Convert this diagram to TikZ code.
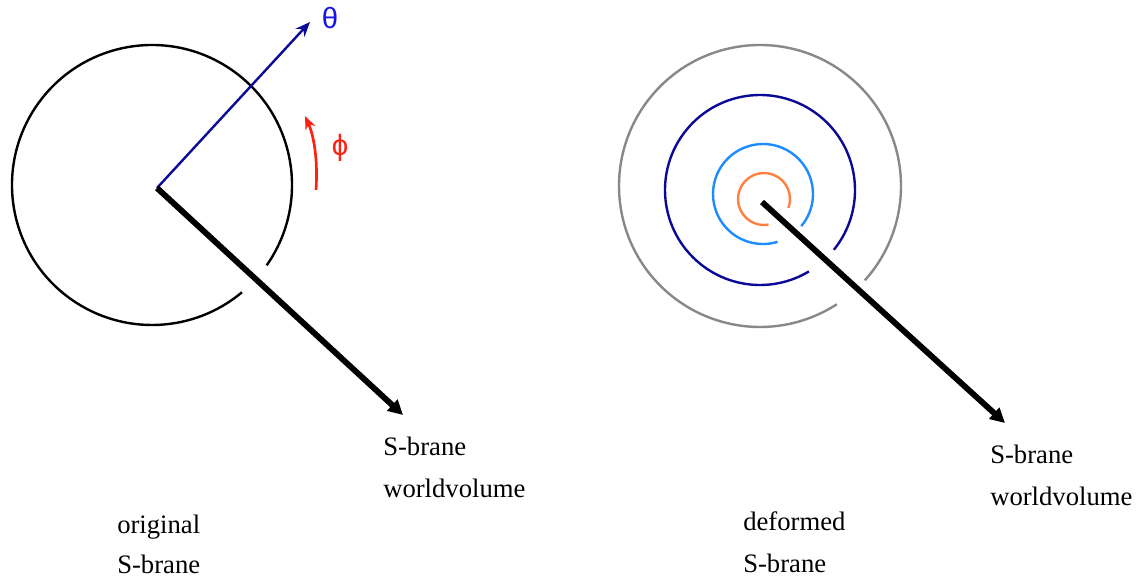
\documentclass[tikz,border=0pt]{standalone}
\usepackage{fontspec}
\setmainfont{Liberation Serif}
\newfontfamily\greekfont{Liberation Sans}
\usetikzlibrary{arrows.meta}

\definecolor{navyline}{HTML}{0A0A96}
\definecolor{thetablue}{HTML}{1414E6}
\definecolor{phired}{HTML}{FF2010}
\definecolor{skyline}{HTML}{1E8CFF}
\definecolor{orangeline}{HTML}{FF8040}
\definecolor{greyline}{HTML}{888888}

\tikzset{
  brane/.style={line width=1.8pt},
  world/.style={line width=4.4pt, -{Triangle[length=11pt,width=11pt]}},
  lbl/.style={font=\fontsize{20}{24}\selectfont, anchor=base west, inner sep=0pt},
  greek/.style={font=\greekfont\fontsize{22}{24}\selectfont, inner sep=0pt}
}

\begin{document}
\begin{tikzpicture}[x=0.75pt, y=0.75pt]
  \useasboundingbox (0,0) rectangle (1138,-577);

  % --- original S-brane ---
  \coordinate (oC) at (152,-185);
  \coordinate (oW) at (157,-188);
  \coordinate (oT) at (310,-22);
  \coordinate (oE) at (403,-415);
  \draw[brane] (oC) ++(-35:140) arc[start angle=-35, end angle=310, radius=140];

  % theta axis
  \draw[navyline, line width=1.8pt, -{Stealth[length=11pt,width=9pt]}] (oW) -- (oT);
  \node[greek, thetablue] (theta) at (330,-18) {θ};

  % phi rotation
  \coordinate (pA) at (316,-190);
  \coordinate (pB) at (305,-116);
  \draw[phired, line width=2pt, -{Stealth[length=10pt,width=8pt]}]
    (pA) .. controls (318,-160) and (314,-136) .. (pB);
  \node[greek, phired] (phi) at (340,-148) {ϕ};

  % worldvolume arrow
  \draw[world] (oW) -- (oE);
  \node[lbl] (oWa) at (383,-455) {S-brane};
  \node[lbl] (oWb) at (383,-497) {worldvolume};
  \node[lbl] (oNa) at (117,-533) {original};
  \node[lbl] (oNb) at (117,-573) {S-brane};

  % --- deformed S-brane ---
  \coordinate (dW) at (762,-202);
  \coordinate (dE) at (1005,-423);
  \draw[brane, greyline]   (760,-186) ++(-42:141) arc[start angle=-42, end angle=303, radius=141];
  \draw[brane, navyline]   (760,-190) ++(-39:95)  arc[start angle=-39, end angle=301, radius=95];
  \draw[brane, skyline]    (763,-194) ++(-40:50)  arc[start angle=-40, end angle=287, radius=50];
  \draw[brane, orangeline] (764,-199) ++(-20:26)  arc[start angle=-20, end angle=280, radius=26];

  \draw[world] (dW) -- (dE);
  \node[lbl] (dWa) at (990,-463) {S-brane};
  \node[lbl] (dWb) at (990,-505) {worldvolume};
  \node[lbl] (dNa) at (743,-530) {deformed};
  \node[lbl] (dNb) at (743,-572) {S-brane};
\end{tikzpicture}
\end{document}
